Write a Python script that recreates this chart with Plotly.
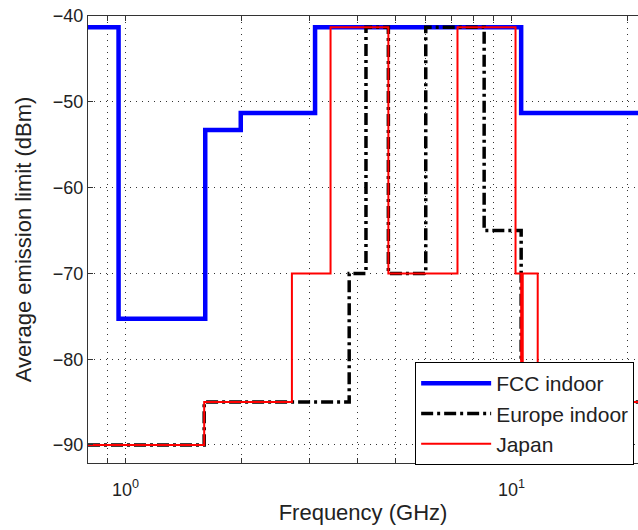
import numpy as np
import plotly.graph_objects as go

# FCC indoor mask (level applies from freq[i] to freq[i+1])
fcc_freq = [0.8, 0.96, 1.61, 1.99, 3.1, 10.6, 25]
fcc_level = [-41.3, -75.3, -53.3, -51.3, -41.3, -51.3, -51.3]

# Europe indoor mask
eu_freq = [0.8, 1.6, 3.8, 4.2, 4.8, 6.0, 8.5, 10.6, 25]
eu_level = [-90, -85, -70, -41.3, -70, -41.3, -65, -85, -85]

# Japan mask
jp_freq = [0.8, 1.6, 2.7, 3.4, 4.8, 7.25, 10.25, 10.6, 10.7, 11.7, 25]
jp_level = [-90, -85, -70, -41.3, -70, -41.3, -70, -85, -70, -85, -85]

x_major = [1, 10]
x_major_text = ["10<sup>0</sup>", "10<sup>1</sup>"]
x_minor = [0.9, 2, 3, 4, 5, 6, 7, 8, 9, 20]
y_ticks = [-90, -80, -70, -60, -50, -40]

fig = go.Figure()
fig.add_trace(go.Scatter(x=fcc_freq, y=fcc_level, mode="lines", line_shape="hv",
                         name="FCC indoor", line=dict(color="#0000ff", width=4.5)))
fig.add_trace(go.Scatter(x=eu_freq, y=eu_level, mode="lines", line_shape="hv",
                         name="Europe indoor",
                         line=dict(color="black", width=3.5, dash="12px,4px,3px,4px")))
fig.add_trace(go.Scatter(x=jp_freq, y=jp_level, mode="lines", line_shape="hv",
                         name="Japan", line=dict(color="#ff0000", width=2)))

font = "Liberation Sans, Arial, sans-serif"
grid = dict(showgrid=True, gridcolor="#333", gridwidth=1, griddash="1px,5px")
fig.update_layout(
    width=638, height=530,
    margin=dict(l=88, r=0, t=16, b=67),
    plot_bgcolor="white", paper_bgcolor="white",
    font=dict(family=font, size=18, color="#222"),
    showlegend=True,
    legend=dict(x=0.993, y=0.226, xanchor="right", yanchor="top",
                bgcolor="white", bordercolor="black", borderwidth=1,
                font=dict(size=21, color="#222"), itemwidth=70,
                tracegroupgap=0),
    xaxis=dict(type="log", range=[np.log10(0.8), 1.328],
               tickvals=x_major, ticktext=x_major_text,
               ticks="inside", ticklen=5, tickcolor="#333",
               ticklabelstandoff=10,
               minor=dict(tickvals=x_minor, ticks="inside", ticklen=5,
                          tickcolor="#333", **grid),
               showline=True, linecolor="#333", linewidth=1, mirror="allticks",
               zeroline=False, automargin=False,
               title=dict(text="Frequency (GHz)", standoff=6,
                          font=dict(size=22))),
    yaxis=dict(range=[-92.1, -40], tickvals=y_ticks,
               ticks="inside", ticklen=5, tickcolor="#333",
               showline=True, linecolor="#333", linewidth=1, mirror=False,
               zeroline=False, automargin=False,
               title=dict(text="Average emission limit (dBm)", standoff=15,
                          font=dict(size=22)),
               **grid),
)
fig.update_xaxes(**grid)
fig.write_html("out.html")
